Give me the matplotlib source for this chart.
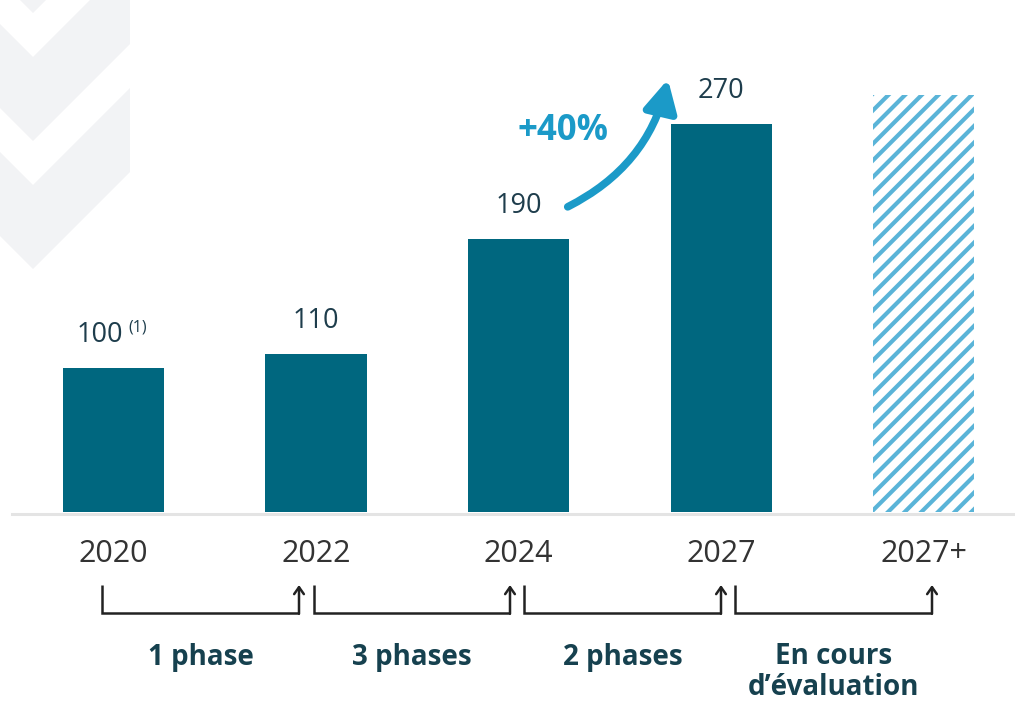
import matplotlib
matplotlib.use("Agg")
import matplotlib.pyplot as plt
from matplotlib.patches import Polygon, FancyArrowPatch

plt.rcParams['font.family'] = ['Open Sans', 'DejaVu Sans']
plt.rcParams['hatch.linewidth'] = 3.0

# -----------------------------
# Data
# -----------------------------
years = ['2020', '2022', '2024', '2027', '2027+']
values = [100, 110, 190, 270]
future_value = 290          # hatched bar, no label
phases = ['1 phase', '3 phases', '2 phases', 'En cours\nd’évaluation']
growth_label = '+40%'

bar_color = '#00677F'
hatch_color = '#5AB4D8'
arrow_color = '#1B9AC8'
value_color = '#1E3D4C'
phase_color = '#16414F'
bg_color = '#F2F3F5'

fig = plt.figure(figsize=(10.15, 7.01), dpi=100)

# overlay in pixel space for the decoration (chevrons, brackets)
deco = fig.add_axes([0, 0, 1, 1], zorder=0)
deco.set_xlim(0, 1015)
deco.set_ylim(701, 0)
deco.axis('off')

# main data axes
ax = fig.add_axes([0, 0, 1, 1], zorder=1)
ax.patch.set_alpha(0)
ax.set_xlim(-0.560, 4.450)
ax.set_ylim(-131.5, 356.3)
ax.axis('off')

# -----------------------------
# Background chevrons
# -----------------------------
for t in [-71, 57, 185]:
    pts = [(0, t - 33), (33, t), (130, t - 97), (130, t - 13), (33, t + 84), (0, t + 51)]
    deco.add_patch(Polygon(pts, closed=True, facecolor=bg_color, edgecolor='none'))

# -----------------------------
# Bars
# -----------------------------
x = list(range(len(years)))
ax.axhline(-1.2, xmin=12 / 1015, xmax=1, color='#E4E4E4', lw=2.2, zorder=1)
ax.bar(x[:4], values, width=0.5, color=bar_color, zorder=2)
ax.bar(x[4], future_value, width=0.5, facecolor='white', edgecolor=hatch_color,
       hatch='//', lw=0, zorder=2)

# value labels
for i, v in enumerate(values):
    dx = -9.7 if i == 0 else 0
    t = ax.annotate(str(v), xy=(i, v), xytext=(dx, 19), textcoords='offset points',
                    ha='center', va='baseline', fontsize=19.5, color=value_color)
    if i == 0:
        ax.annotate('(1)', xy=(1, 1), xycoords=t, xytext=(4, 1),
                    textcoords='offset points', ha='left', va='top',
                    fontsize=11.5, color=value_color)

# year labels
for i, lab in enumerate(years):
    ax.text(i, -29, lab, ha='center', va='center', fontsize=22, color='#333333')

# -----------------------------
# Growth arrow
# -----------------------------
arrow = FancyArrowPatch((2.23, values[2] + 21.5), (2.74, values[3] + 33),
                        connectionstyle='arc3,rad=0.24',
                        arrowstyle='-|>,head_length=0.95,head_width=0.5',
                        mutation_scale=20, lw=5.5, color=arrow_color,
                        capstyle='round', zorder=3)
ax.add_patch(arrow)
ax.text(2.22, 265, growth_label, ha='center', va='center', fontsize=25,
        fontweight='bold', color=arrow_color)

# -----------------------------
# Phase brackets
# -----------------------------
starts = [102, 314, 524, 735]
ends = [299, 510, 721, 932]
for s, e, lab in zip(starts, ends, phases):
    deco.plot([s, s, e], [585, 613, 613], color='#222222', lw=1.8,
              solid_joinstyle='miter', solid_capstyle='butt')
    deco.annotate('', xy=(e, 585), xytext=(e, 613.8),
                  arrowprops=dict(arrowstyle='->,head_length=0.5,head_width=0.35',
                                  lw=1.8, color='#222222', shrinkA=0, shrinkB=0))
    deco.text((s + e) / 2, 657 if '\n' not in lab else 672, lab, ha='center', va='center',
              fontsize=20, fontweight='bold', color=phase_color, linespacing=1.1)

fig.savefig('out.png', dpi=100)
